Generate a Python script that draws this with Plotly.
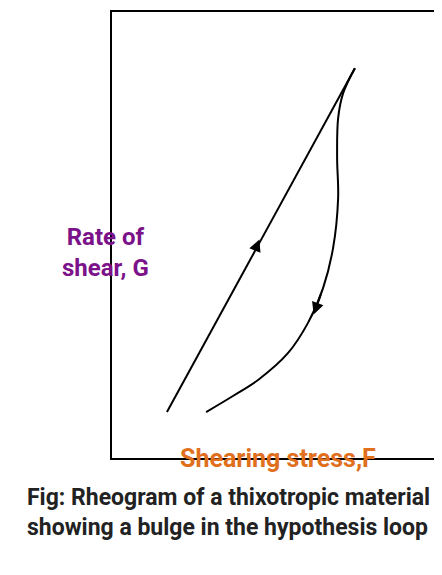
import plotly.graph_objects as go

up_x = [1.64, 7.25]
up_y = [1.03, 8.74]
down_x = [7.25, 6.90, 6.75, 6.72, 6.75, 6.60, 6.30, 5.85, 5.25, 4.36, 3.61, 2.81]
down_y = [8.74, 8.18, 7.62, 6.73, 5.83, 4.71, 3.81, 3.03, 2.35, 1.75, 1.39, 1.03]

fig = go.Figure()
fig.add_trace(go.Scatter(x=up_x, y=up_y, mode="lines", line=dict(color="black", width=2)))
fig.add_trace(go.Scatter(x=down_x, y=down_y, mode="lines", line=dict(color="black", width=2, shape="spline")))

fig.add_annotation(x=4.40, y=4.90, ax=4.25, ay=4.62, xref="x", yref="y", axref="x", ayref="y",
                   text="", showarrow=True, arrowhead=2, arrowsize=1.2, arrowwidth=2, arrowcolor="black")
fig.add_annotation(x=6.02, y=3.22, ax=6.25, ay=3.70, xref="x", yref="y", axref="x", ayref="y",
                   text="", showarrow=True, arrowhead=2, arrowsize=1.2, arrowwidth=2, arrowcolor="black")

fnt = "Roboto"
fig.add_annotation(x=-0.155, y=0.46, xref="paper", yref="paper", showarrow=False,
                   text="<b>Rate of<br>shear, G</b>", align="center",
                   font=dict(family=fnt, size=24, color="#7B128A"))
fig.add_annotation(x=0.496, y=-0.038, xref="paper", yref="paper", showarrow=False,
                   text="<b>Shearing stress,F</b>", font=dict(family=fnt, size=25, color="#E0701E"))
fig.add_annotation(x=0.349, y=-0.19, xref="paper", yref="paper", showarrow=False,
                   text="<b>Fig: Rheogram of a thixotropic material<br>showing a bulge in the hypothesis loop</b>",
                   align="left", font=dict(family=fnt, size=23, color="#222222"))

fig.update_xaxes(range=[0, 10], showticklabels=False, showgrid=False, zeroline=False,
                 showline=True, linecolor="black", linewidth=2, mirror=True, ticks="")
fig.update_yaxes(range=[0, 10], showticklabels=False, showgrid=False, zeroline=False,
                 showline=True, linecolor="black", linewidth=2, mirror=True, ticks="")
fig.update_layout(width=442, height=575, margin=dict(l=104, r=3, t=4, b=125, autoexpand=False),
                  plot_bgcolor="white", paper_bgcolor="white", showlegend=False)
fig.write_html("out.html")
